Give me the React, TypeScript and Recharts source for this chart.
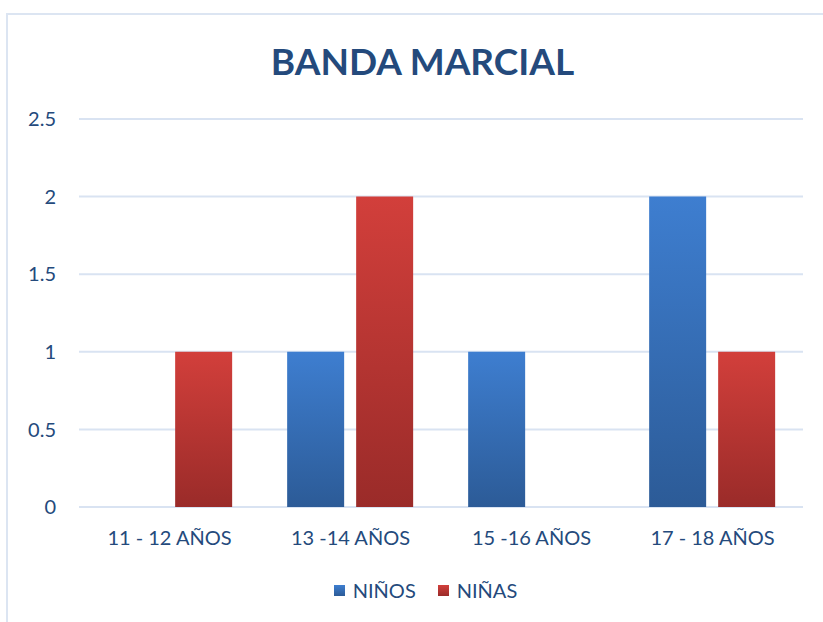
import { Bar, BarChart, CartesianGrid, XAxis, YAxis } from 'recharts';

const categories = ['11 - 12 AÑOS', '13 -14 AÑOS', '15 -16 AÑOS', '17 - 18 AÑOS'];
const ninos = [0, 1, 1, 2];
const ninas = [1, 2, 0, 1];
const yTicks = [0, 0.5, 1, 1.5, 2, 2.5];
const seriesNames = ['NIÑOS', 'NIÑAS'];

const data = categories.map((c, i) => ({ name: c, ninos: ninos[i], ninas: ninas[i] }));

const TEXT = '#244A7C';
const FONT = 'Lato, "Open Sans", sans-serif';
const legendColors = ['linear-gradient(#3E7ED0, #2C5B97)', 'linear-gradient(#D23F3B, #9A2B29)'];

export default function App() {
  return (
    <div style={{ position: 'absolute', left: 0, top: 0, width: 823, height: 622, overflow: 'hidden', background: '#fff', fontFamily: FONT }}>
      <div style={{ position: 'absolute', left: 6, top: 13, width: 840, height: 640, border: '2px solid #DCE5F2' }} />
      <div style={{ position: 'absolute', left: 0, top: 38, width: 845, textAlign: 'center', fontSize: 37, fontWeight: 700, color: TEXT }}>
        BANDA MARCIAL
      </div>
      <BarChart
        width={823}
        height={622}
        data={data}
        margin={{ top: 119, right: 20, left: 0, bottom: 0 }}
        barCategoryGap="15%"
        barGap={12}
        style={{ position: 'absolute', left: 0, top: 0 }}
      >
        <defs>
          <linearGradient id="gBlue" x1="0" y1="0" x2="0" y2="1">
            <stop offset="0%" stopColor="#3E7ED0" />
            <stop offset="100%" stopColor="#2C5B97" />
          </linearGradient>
          <linearGradient id="gRed" x1="0" y1="0" x2="0" y2="1">
            <stop offset="0%" stopColor="#D23F3B" />
            <stop offset="100%" stopColor="#9A2B29" />
          </linearGradient>
        </defs>
        <CartesianGrid vertical={false} stroke="#D9E3F2" strokeWidth={2} />
        <XAxis
          dataKey="name"
          axisLine={false}
          tickLine={false}
          tickSize={0}
          tickMargin={24}
          height={115}
          interval={0}
          tick={{ fill: TEXT, fontSize: 20, fontFamily: FONT }}
        />
        <YAxis
          domain={[0, 2.5]}
          ticks={yTicks}
          axisLine={false}
          tickLine={false}
          tickSize={0}
          tickMargin={23}
          width={79}
          tick={{ fill: TEXT, fontSize: 20, fontFamily: FONT }}
        />
        <Bar dataKey="ninos" name={seriesNames[0]} fill="url(#gBlue)" isAnimationActive={false} />
        <Bar dataKey="ninas" name={seriesNames[1]} fill="url(#gRed)" isAnimationActive={false} />
      </BarChart>
      <div style={{ position: 'absolute', left: 0, top: 578, width: 851, display: 'flex', justifyContent: 'center', gap: 22, fontSize: 20, color: TEXT }}>
        {seriesNames.map((n, i) => (
          <div key={n} style={{ display: 'flex', alignItems: 'center', gap: 8 }}>
            <span style={{ display: 'inline-block', width: 11, height: 11, background: legendColors[i] }} />
            <span>{n}</span>
          </div>
        ))}
      </div>
    </div>
  );
}
